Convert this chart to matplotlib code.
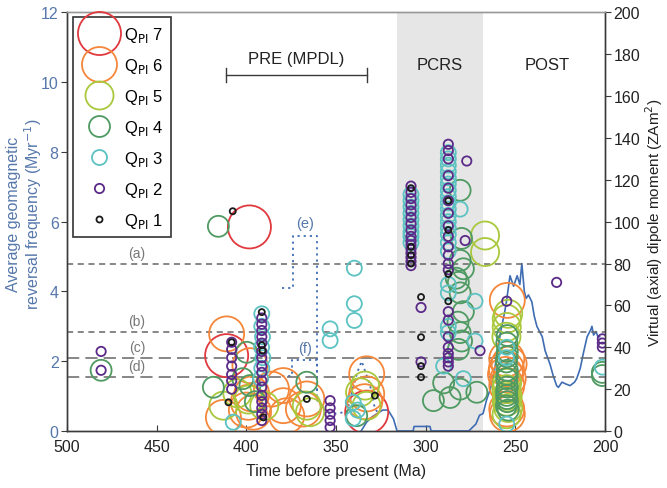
import matplotlib
matplotlib.use("Agg")
import matplotlib.pyplot as plt
from matplotlib.lines import Line2D

plt.rcParams['font.family'] = ['Liberation Sans', 'DejaVu Sans']

# ---------------- data ----------------
# reversal frequency (solid line, left axis)
freq_age = [336, 333, 330, 327, 324, 321, 318, 316, 307, 306.5, 297.6, 297, 276, 272, 270, 268,
            266, 264, 262, 260, 258, 256, 255, 253, 251, 249, 247.5, 246.4, 245, 244, 242.7,
            240.8, 239.5, 238, 236, 235, 233.4, 232, 230.6, 229, 227, 226, 224, 222, 219.5,
            217, 215.8, 213.8, 212, 210, 208, 207.3, 206.4, 205, 204, 203]
freq_val = [0.0, 0.25, 0.4, 0.5, 0.6, 0.6, 0.35, 0.0, 0.0, 0.13, 0.13, 0.0, 0.0, 0.2, 0.45, 0.5,
            0.9, 1.2, 1.6, 2.3, 2.9, 3.4, 3.7, 4.45, 4.15, 4.45, 4.2, 4.8, 4.0, 3.8, 3.9,
            3.7, 3.3, 3.0, 2.8, 2.7, 2.3, 2.1, 1.9, 1.6, 1.3, 1.25, 1.4, 1.35, 1.3,
            1.4, 1.5, 1.8, 2.25, 2.7, 2.9, 3.0, 2.75, 2.85, 2.7, 2.7]
# dotted scenarios (e) and (f)
e_age = [380.3, 374, 374, 360.8, 360.8]
e_val = [4.1, 4.1, 5.58, 5.58, 0.9]
f_age = [380.3, 374.7, 374.7, 360.8, 360.8]
f_val = [1.59, 1.59, 2.04, 2.04, 0.9]
low_age = [360.8, 355, 350, 344, 342, 340.3, 338, 335.7, 333, 331, 328.3, 326]
low_val = [0.9, 0.5, 0.5, 0.55, 0.9, 1.3, 1.7, 2.0, 1.6, 1.3, 0.63, 0.5]

# reference VDM levels (right axis)
ref_labels = ['(a)', '(b)', '(c)', '(d)']
ref_vdm = [80, 47.2, 34.8, 25.7]

# VDM data by QPI class (age Ma, VDM ZAm2)
q7_age = [398.3, 411, 332.9]
q7_vdm = [97.5, 36, 9]

q6_age = [411, 398, 397, 398.9, 412.8, 396, 379.4, 379.4, 377.5, 366.3, 368.2, 332.9, 332.9, 334,
          386, 400, 254.5, 254.8, 255, 254, 254.8, 254.8, 253.5, 255.5, 254.5]
q6_vdm = [46.4, 31.2, 17.7, 13.7, 6.5, 9, 12.1, 21.7, 7.3, 15.3, 10.5, 27.3, 17.7, 14,
          20, 10, 62.4, 34.4, 29.7, 25, 21.7, 10.5, 32, 27, 8]

q5_age = [398.9, 412.8, 366.3, 364.5, 336.6, 333.8, 333, 266.9, 266.9, 405, 390,
          254.8, 254.8, 254, 255, 254.5, 254.8, 254, 255, 254.6, 254.9, 254.3]
q5_vdm = [15, 12.1, 12.1, 9, 18.5, 21.7, 12, 93.4, 85.5, 18, 12,
          53.6, 49.7, 56, 20, 17, 14, 11, 45, 23, 8, 16]

q4_age = [481, 415.6, 399.8, 418.4, 398, 366.3, 338.5, 402, 395,
          280.8, 280, 280.8, 279, 281.8, 280.8, 280.8, 280, 281.8, 295.7, 290, 280.8, 271.5,
          286.4, 282, 279, 283,
          254.5, 254.8, 254.5, 255, 254.5, 254.8, 254.5, 254.8, 254.5, 254, 255,
          254.7, 254.6, 254.9, 254.7,
          201.5, 201.5]
q4_vdm = [29, 97.8, 37.6, 20.9, 21.7, 23.3, 7.3, 25, 14,
          115, 92, 81.5, 77.5, 71, 66, 47, 43, 39, 14.5, 23, 20, 18.5,
          16, 52, 57, 73,
          45.6, 42, 38, 33, 29, 25, 21, 17, 14, 10, 12,
          35.5, 27, 19, 15.5,
          26.5, 28]

q3_age = [339.8, 339.8, 339.8, 353.3, 353.3, 407.3, 340.4, 340.4, 338,
          391.4, 391.4, 391, 391.5, 390.8, 391.4, 392,
          308.2, 308.2, 308.2, 308.2, 308.2, 308.2, 308.2, 308.2, 308.2,
          287.4, 287.4, 287.4, 287.4, 287.4, 287.4, 287.4, 287.4, 287.4, 287.4,
          287.4, 287.4, 287.4, 287.4, 287.4, 287.4, 287.4, 287.4, 287.4, 287.4,
          280.8, 272.5, 272.5, 279, 290, 254.8, 254.8, 255, 201.5]
q3_vdm = [77.8, 60.8, 52.8, 48.8, 43.2, 4.2, 13.7, 6, 10,
          56, 50, 45, 40, 35, 30, 25,
          90, 93, 95, 98, 101, 104, 107, 110, 113,
          133, 130, 127, 124, 121, 118, 115, 112, 109, 106,
          103, 100, 97, 94, 90, 86, 70, 66, 50, 47,
          106, 62, 43, 25, 31, 3.3, 40, 35, 30.5]

q2_age = [481, 481, 408.2, 408.2, 408.2, 408.2, 408.2, 408.2, 408.2,
          391.4, 391.4, 391.4, 391.4, 391.4, 391.4, 391.4, 391.4, 391.4, 391.4, 391.4,
          391.4, 391.4, 391.4, 391.4, 391.4,
          353.3, 353.3, 353.3, 353.3, 353.3,
          308.2, 308.2, 308.2, 308.2, 308.2, 308.2, 308.2, 308.2, 308.2, 308.2, 308.2,
          308.2, 308.2, 308.2, 308.2, 308.2,
          287.4, 287.4, 287.4, 287.4, 287.4, 287.4, 287.4, 287.4, 287.4, 287.4, 287.4,
          287.4, 287.4, 287.4, 287.4, 287.4, 287.4, 287.4, 287.4, 287.4, 287.4,
          277.1, 278, 269.7, 302.6, 302.6, 227, 254.8, 201.5, 201.5, 201.5]
q2_vdm = [38, 29, 42.4, 39, 35, 31, 27, 24, 20,
          54, 51, 48, 45, 42, 38, 35, 31, 28, 24, 21,
          17, 14, 11, 8, 5,
          14.5, 11, 8, 5, 1.8,
          79, 81, 83, 85, 87, 89, 91, 93, 96, 99, 102,
          105, 108, 111, 114, 117,
          137, 134, 130, 122, 116, 110, 104, 98, 93, 88, 84,
          80, 77, 57, 53, 45, 40, 37, 35, 33, 31,
          129, 91, 38.4, 59, 33, 71, 62, 44, 42, 40]

q1_age = [407.6, 408.2, 410, 391.4, 391, 390.5, 391.4, 366.3, 328.3, 302.6, 302.6, 302.6, 302.6,
          287.4, 308.2, 308.2, 308.2, 308.2, 287.4, 287.4, 287.4]
q1_vdm = [105, 42.4, 13.7, 56.8, 38.4, 6.5, 41, 15.3, 16.9, 64, 44.8, 31, 25.7,
          62, 80, 84, 88, 116, 75, 110, 96]

q_classes = [
    ('7', q7_age, q7_vdm, '#e0393e', 961),
    ('6', q6_age, q6_vdm, '#f5873a', 635),
    ('5', q5_age, q5_vdm, '#a9c83c', 408),
    ('4', q4_age, q4_vdm, '#4f9a62', 228),
    ('3', q3_age, q3_vdm, '#5cc2c2', 117),
    ('2', q2_age, q2_vdm, '#5b2a88', 45),
    ('1', q1_age, q1_vdm, '#1a1a1a', 19),
]

blue = '#3f6db3'
label_blue = '#5677ab'
dark = '#3a3a3a'

# ---------------- figure ----------------
fig = plt.figure(figsize=(6.67, 4.89), dpi=100)
ax = fig.add_axes([0.1005, 0.1166, 0.8066, 0.856])
ax2 = ax.twinx()

ax.set_xlim(500, 200)
ax.set_ylim(0, 12)
ax2.set_ylim(0, 200)

ax.axvspan(316, 268, color='#e6e6e6', zorder=0, lw=0)

ax.plot(freq_age, freq_val, color=blue, lw=1.2, zorder=3)
ax.plot(e_age, e_val, color=blue, lw=1.3, ls=(0, (1.2, 2.2)), zorder=3)
ax.plot(f_age, f_val, color=blue, lw=1.3, ls=(0, (1.2, 2.2)), zorder=3)
ax.plot(low_age, low_val, color=blue, lw=1.3, ls=(0, (1.2, 2.2)), zorder=3)
ax.text(367, 5.75, '(e)', color=label_blue, fontsize=10.5, ha='center', va='bottom')
ax.text(367, 2.17, '(f)', color=label_blue, fontsize=10.5, ha='center', va='bottom')

# reference lines
styles = [(0, (4, 3)), (0, (4, 3)), (0, (8, 4)), (0, (8, 4))]
for lab, v, st in zip(ref_labels, ref_vdm, styles):
    ax2.axhline(v, color='#666666', lw=1.1, ls=st, zorder=1)
    ax2.text(461, v + 1.8, lab, color='#777777', fontsize=10, ha='center', va='bottom')

handles = []
for q, a, v, c, s in q_classes:
    ax2.scatter(a, v, s=s, facecolors='none', edgecolors=c, linewidths=1.3, zorder=4)
    handles.append(Line2D([], [], ls='none', marker='o', markersize=s ** 0.5,
                          markerfacecolor='none', markeredgecolor=c, markeredgewidth=1.3,
                          label=r'Q$_{\mathrm{PI}}$ ' + q))

leg = ax2.legend(handles=handles, loc='upper left', bbox_to_anchor=(0.011, 0.988),
                 frameon=True, fancybox=False, edgecolor='black', fontsize=12,
                 labelspacing=0.72, handlelength=2.2, handletextpad=0.4, borderpad=0.45,
                 borderaxespad=0.0)
leg.get_frame().set_linewidth(1.2)
leg.set_zorder(10)

# period annotations
ax.plot([411.3, 332.7], [10.2, 10.2], color=dark, lw=1.0)
ax.plot([411.3, 411.3], [10.0, 10.4], color=dark, lw=1.0)
ax.plot([332.7, 332.7], [10.0, 10.4], color=dark, lw=1.0)
ax.text(372, 10.45, 'PRE (MPDL)', fontsize=12, ha='center', va='bottom', color='#222222')
ax.text(292, 10.3, 'PCRS', fontsize=12, ha='center', va='bottom', color='#222222')
ax.text(232, 10.3, 'POST', fontsize=12, ha='center', va='bottom', color='#222222')

# axes styling
ax.set_xticks([500, 450, 400, 350, 300, 250, 200])
ax.set_yticks(range(0, 13, 2))
ax2.set_yticks(range(0, 201, 20))
ax.tick_params(axis='x', direction='in', length=4, labelsize=11.5, colors=dark, pad=6)
ax.tick_params(axis='x', labelcolor='#222222')
ax.tick_params(axis='y', direction='out', length=4, labelsize=11.5, colors=dark, labelcolor=label_blue,
               pad=2)
ax2.tick_params(axis='y', direction='out', length=4, labelsize=11.5, colors=dark, labelcolor='#222222',
                pad=2)
for a_ in (ax, ax2):
    for sp in a_.spines.values():
        sp.set_color(dark)
        sp.set_linewidth(1.0)
ax.spines['top'].set_color('#999999')
ax2.spines['top'].set_color('#999999')

ax.set_xlabel('Time before present (Ma)', fontsize=11.5, color='#222222', labelpad=6)
ax.set_ylabel('Average geomagnetic\nreversal frequency (Myr$^{-1}$)', fontsize=11.5,
              color=label_blue, linespacing=1.05)
ax.yaxis.set_label_coords(-0.043, 0.52)
ax2.set_ylabel('Virtual (axial) dipole moment (ZAm$^{2}$)', fontsize=11, color='#222222')
ax2.yaxis.set_label_coords(1.072, 0.5)

fig.savefig('out.png', dpi=100)
